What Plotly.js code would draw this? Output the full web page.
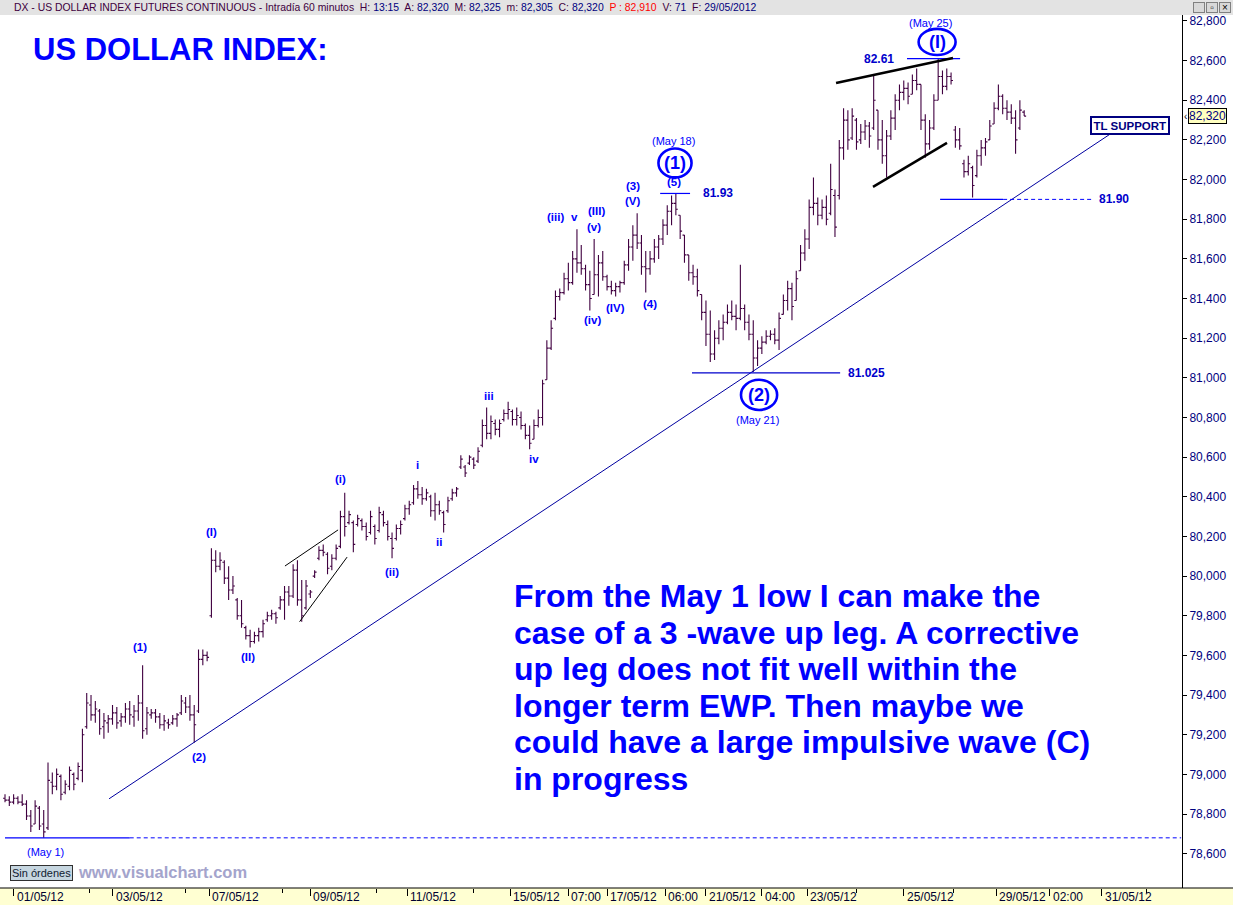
<!DOCTYPE html>
<html><head><meta charset="utf-8">
<script src="https://cdn.plot.ly/plotly-3.0.1.min.js"></script>
<style>html,body{margin:0;padding:0;background:#fff;overflow:hidden}#chart{width:1233px;height:905px}</style>
</head><body><div id="chart"></div>
<script>
// ---- Data: 2-hour OHLC bars of DX ----
const openPrice = [
78.88,78.87,78.86,78.88,78.86,78.85,78.79,78.75,78.83,78.75,
78.73,78.96,78.94,78.99,78.91,78.94,79.00,78.98,79.02,79.24,
79.35,79.30,79.32,79.24,79.26,79.28,79.31,79.27,79.29,79.33,
79.29,79.32,79.36,79.23,79.30,79.31,79.29,79.25,79.26,79.26,
79.28,79.31,79.36,79.34,79.30,79.32,79.58,79.60,79.80,80.08,
80.05,80.07,79.99,79.93,79.88,79.80,79.74,79.70,79.67,79.70,
79.72,79.78,79.80,79.81,79.84,79.88,79.92,79.90,80.03,79.88,
79.84,79.91,80.00,80.09,80.13,80.11,80.05,80.09,80.15,80.30,
80.27,80.27,80.26,80.28,80.25,80.22,80.25,80.23,80.31,80.26,
80.19,80.19,80.24,80.29,80.34,80.37,80.44,80.41,80.39,80.40,
80.33,80.36,80.32,80.33,80.39,80.42,80.55,80.55,80.57,80.59,
80.58,80.66,80.76,80.72,80.77,80.74,80.79,80.82,80.83,80.79,
80.80,80.76,80.71,80.69,80.76,80.80,80.99,81.15,81.30,81.41,
81.43,81.50,81.48,81.60,81.58,81.55,81.47,81.42,81.52,81.58,
81.51,81.46,81.44,81.46,81.48,81.57,81.66,81.72,81.68,81.56,
81.55,81.60,81.66,81.70,81.77,81.84,81.88,81.82,81.72,81.62,
81.53,81.51,81.42,81.33,81.22,81.12,81.20,81.25,81.28,81.33,
81.31,81.30,81.35,81.28,81.22,81.10,81.15,81.18,81.21,81.22,
81.19,81.32,81.39,81.45,81.39,81.54,81.63,81.70,81.86,81.88,
81.82,81.86,81.83,81.92,81.92,82.16,82.30,82.21,82.30,82.20,
82.24,82.27,82.26,82.35,82.20,82.12,82.22,82.31,82.40,82.44,
82.46,82.43,82.50,82.48,82.30,82.18,82.26,82.40,82.52,82.47,
82.52,82.25,82.20,82.08,82.04,82.06,82.02,82.12,82.16,82.20,
82.28,82.36,82.42,82.36,82.34,82.31,82.26,82.34];
const highPrice = [
78.90,78.89,78.90,78.89,78.90,78.87,78.82,78.87,78.84,78.82,
79.06,79.01,79.03,79.00,78.97,79.04,79.01,79.06,79.23,79.41,
79.40,79.37,79.33,79.31,79.30,79.35,79.34,79.31,79.36,79.37,
79.35,79.40,79.55,79.34,79.33,79.33,79.31,79.30,79.28,79.30,
79.31,79.40,79.39,79.40,79.35,79.63,79.63,79.62,80.14,80.13,
80.12,80.08,80.05,80.00,79.89,79.88,79.75,79.73,79.72,79.74,
79.78,79.82,79.83,79.82,79.90,79.95,79.95,80.06,80.08,79.98,
79.98,79.93,80.03,80.15,80.16,80.12,80.11,80.16,80.33,80.42,
80.33,80.28,80.31,80.29,80.27,80.33,80.26,80.35,80.33,80.28,
80.22,80.26,80.28,80.36,80.38,80.46,80.48,80.45,80.44,80.41,
80.42,80.38,80.33,80.40,80.44,80.45,80.61,80.56,80.61,80.60,
80.65,80.79,80.85,80.81,80.79,80.79,80.84,80.88,80.84,80.85,
80.83,80.77,80.76,80.79,80.84,80.99,81.19,81.29,81.44,81.45,
81.53,81.58,81.64,81.75,81.67,81.57,81.54,81.70,81.62,81.64,
81.52,81.49,81.48,81.49,81.59,81.70,81.77,81.83,81.72,81.64,
81.64,81.70,81.72,81.80,81.87,81.92,81.93,81.82,81.72,81.62,
81.57,81.55,81.42,81.39,81.34,81.24,81.29,81.32,81.37,81.39,
81.37,81.57,81.37,81.32,81.29,81.19,81.21,81.24,81.24,81.25,
81.33,81.42,81.49,81.48,81.54,81.67,81.75,81.90,82.01,81.91,
81.90,81.92,82.08,81.95,82.20,82.36,82.35,82.36,82.31,82.28,
82.30,82.29,82.53,82.35,82.30,82.25,82.35,82.43,82.48,82.50,
82.49,82.53,82.56,82.48,82.33,82.30,82.43,82.61,82.55,82.56,
82.54,82.27,82.26,82.10,82.12,82.07,82.15,82.20,82.21,82.30,
82.39,82.48,82.43,82.40,82.38,82.35,82.40,82.35];
const lowPrice = [
78.86,78.84,78.85,78.85,78.84,78.77,78.71,78.75,78.72,78.68,
78.72,78.90,78.92,78.87,78.90,78.92,78.92,78.97,78.96,79.23,
79.27,79.26,79.20,79.18,79.21,79.25,79.23,79.24,79.26,79.25,
79.24,79.27,79.18,79.20,79.28,79.26,79.23,79.22,79.23,79.25,
79.24,79.30,79.31,79.27,79.16,79.31,79.55,79.57,79.79,80.02,
80.03,79.96,79.88,79.91,79.78,79.74,79.68,79.64,79.66,79.67,
79.69,79.77,79.78,79.76,79.83,79.78,79.85,79.89,79.85,79.77,
79.83,79.89,79.99,80.08,80.10,80.01,80.03,80.08,80.14,80.20,
80.26,80.12,80.25,80.23,80.18,80.21,80.16,80.22,80.25,80.18,
80.09,80.18,80.21,80.28,80.31,80.36,80.39,80.36,80.38,80.30,
80.28,80.31,80.22,80.32,80.38,80.40,80.54,80.50,80.56,80.54,
80.57,80.65,80.69,80.69,80.71,80.70,80.78,80.79,80.76,80.76,
80.74,80.69,80.64,80.69,80.75,80.76,80.99,81.14,81.29,81.39,
81.42,81.44,81.47,81.53,81.52,81.44,81.34,81.42,81.41,81.49,
81.44,81.42,81.41,81.43,81.47,81.54,81.59,81.65,81.52,81.43,
81.52,81.58,81.60,81.67,81.72,81.77,81.82,81.70,81.58,81.49,
81.47,81.41,81.29,81.16,81.08,81.09,81.17,81.19,81.27,81.29,
81.24,81.29,81.24,81.19,81.03,81.06,81.12,81.17,81.19,81.17,
81.14,81.32,81.34,81.29,81.39,81.54,81.59,81.65,81.82,81.77,
81.80,81.77,81.82,81.71,81.90,82.10,82.15,82.20,82.15,82.18,
82.20,82.16,82.25,82.15,82.08,82.01,82.20,82.25,82.35,82.40,
82.38,82.43,82.45,82.25,82.11,82.15,82.25,82.40,82.43,82.45,
82.48,82.16,82.15,82.01,82.02,81.91,82.01,82.07,82.12,82.20,
82.28,82.35,82.33,82.30,82.28,82.13,82.25,82.32];
const closePrice = [
78.87,78.86,78.88,78.86,78.85,78.79,78.74,78.84,78.74,78.71,
78.97,78.94,79.00,78.90,78.95,79.02,78.95,79.04,79.20,79.36,
79.30,79.33,79.23,79.27,79.28,79.31,79.26,79.29,79.33,79.30,
79.32,79.36,79.22,79.31,79.31,79.29,79.25,79.27,79.25,79.28,
79.30,79.37,79.34,79.30,79.25,79.58,79.60,79.59,80.08,80.05,
80.08,79.99,79.93,79.95,79.80,79.76,79.70,79.67,79.70,79.72,
79.76,79.80,79.81,79.79,79.88,79.92,79.90,80.03,79.88,79.80,
79.95,79.92,80.02,80.13,80.12,80.04,80.09,80.14,80.30,80.25,
80.31,80.16,80.29,80.25,80.20,80.30,80.19,80.32,80.27,80.20,
80.14,80.24,80.26,80.34,80.36,80.44,80.41,80.39,80.42,80.33,
80.36,80.33,80.26,80.38,80.42,80.44,80.59,80.52,80.60,80.56,
80.63,80.76,80.72,80.78,80.74,80.77,80.82,80.84,80.79,80.81,
80.76,80.71,80.67,80.76,80.80,80.97,81.15,81.25,81.41,81.43,
81.50,81.48,81.60,81.58,81.55,81.47,81.40,81.52,81.58,81.51,
81.46,81.44,81.46,81.48,81.57,81.66,81.72,81.68,81.56,81.55,
81.60,81.66,81.70,81.77,81.84,81.88,81.85,81.74,81.62,81.53,
81.51,81.44,81.33,81.22,81.12,81.20,81.25,81.28,81.33,81.31,
81.30,81.35,81.28,81.22,81.10,81.15,81.18,81.21,81.22,81.19,
81.30,81.39,81.45,81.36,81.50,81.63,81.70,81.86,81.88,81.82,
81.86,81.80,81.95,81.76,82.16,82.30,82.20,82.32,82.19,82.24,
82.27,82.22,82.40,82.20,82.12,82.22,82.31,82.40,82.44,82.46,
82.42,82.50,82.48,82.30,82.18,82.26,82.40,82.52,82.47,82.52,
82.50,82.20,82.17,82.04,82.08,81.97,82.12,82.16,82.19,82.27,
82.36,82.42,82.36,82.34,82.31,82.20,82.35,82.32];

const priceTicks = [78.6,78.8,79.0,79.2,79.4,79.6,79.8,80.0,80.2,80.4,80.6,80.8,81.0,81.2,81.4,81.6,81.8,82.0,82.2,82.4,82.6,82.8];
const dateTickHours = [4,50,95,142,187,235,262,280,307,326,352,373,418,461,486,510];
const dateTickLabels = ['01/05/12','03/05/12','07/05/12','09/05/12','11/05/12','15/05/12','07:00','17/05/12','06:00','21/05/12','04:00','23/05/12','25/05/12','29/05/12','02:00','31/05/12'];
const minorTickHours = [39.5,84,129,173,218,396,441,531];

const waveText  = ['(1)','(2)','(I)','(II)','(i)','(ii)','i','ii','iii','iv','(iii)','v','(III)','(v)','(iv)','(IV)','(3)','(V)','(4)','(5)'];
const waveHour  = [63,90,96,113,156,180,192,202,225,246,256,265,275,274,273,284,292,292,300,311];
const wavePrice = [79.64,79.09,80.22,79.59,80.49,80.02,80.56,80.17,80.91,80.59,81.81,81.81,81.84,81.76,81.29,81.35,81.97,81.89,81.37,81.99];

const dateNoteText  = ['(May 1)','(May 18)','(May 21)','(May 25)'];
const dateNoteHour  = [19,310.7,349.8,430.2];
const dateNotePrice = [78.608,82.195,80.787,82.79];

const circleText  = ['(1)','(2)','(I)'];
const circleHour  = [311.6,350.7,433.5];
const circlePrice = [82.084,80.914,82.694];

const levelText  = ['81.93','81.025','82.61','81.90'];
const levelValue = [81.93,81.025,82.61,81.90];
const levelLabelHour = [331.6,400.5,406.5,515.8];

const mayOneLow = 78.68;
const trendAnchorHour  = [48.4,516.3];
const trendAnchorPrice = [78.877,82.246];

const paragraphLines = [
 'From the May 1 low I can make the',
 'case of a 3 -wave up leg. A corrective',
 'up leg does not fit well within the',
 'longer term EWP. Then maybe we',
 'could have a large impulsive wave (C)',
 'in progress'];

// ---- Layout helpers (pixel -> paper for decorative layout only) ----
const W = 1233, H = 905, ML = 0, MR = 51, MT = 15, MB = 17;
const PW = W - ML - MR, PH = H - MT - MB;
const px = x => (x - ML) / PW;
const py = y => (H - MB - y) / PH;

const FONT = '"Liberation Sans", Arial, sans-serif';
const BLUE = '#0000ff';
const barHour = openPrice.map((_, i) => 2 * i);

const trace = {
  type: 'ohlc', x: barHour, open: openPrice, high: highPrice, low: lowPrice, close: closePrice,
  increasing: {line: {color: '#400040', width: 1.1}},
  decreasing: {line: {color: '#400040', width: 1.1}},
  tickwidth: 0.45, hoverinfo: 'skip', showlegend: false
};

const shapes = [];
// header band & footer band
shapes.push({type:'rect', xref:'paper', yref:'paper', x0:-0.01, x1:1.06, y0:1, y1:py(-5), fillcolor:'#e3e3e3', line:{width:0}, layer:'below'});
shapes.push({type:'rect', xref:'paper', yref:'paper', x0:-0.01, x1:1.06, y0:py(H+5), y1:0, fillcolor:'#ffffd2', line:{width:0}, layer:'below'});
shapes.push({type:'line', xref:'paper', yref:'paper', x0:-0.01, x1:1.06, y0:0, y1:0, line:{color:'#000', width:1}});
// trend line
shapes.push({type:'line', xref:'x', yref:'y', x0:trendAnchorHour[0], y0:trendAnchorPrice[0], x1:trendAnchorHour[1], y1:trendAnchorPrice[1], line:{color:'#0000a0', width:1}});
// May 1 low
shapes.push({type:'line', xref:'x', yref:'y', x0:0, x1:58, y0:mayOneLow, y1:mayOneLow, line:{color:BLUE, width:1.2}});
shapes.push({type:'line', xref:'x', yref:'y', x0:58, x1:547, y0:mayOneLow, y1:mayOneLow, line:{color:BLUE, width:1, dash:'4px,3px'}});
// level lines
shapes.push({type:'line', xref:'x', yref:'y', x0:304.7, x1:318.6, y0:levelValue[0], y1:levelValue[0], line:{color:BLUE, width:1.2}});
shapes.push({type:'line', xref:'x', yref:'y', x0:319.5, x1:388.4, y0:levelValue[1], y1:levelValue[1], line:{color:'#0000cc', width:1.2}});
shapes.push({type:'line', xref:'x', yref:'y', x0:419.5, x1:444.2, y0:levelValue[2], y1:levelValue[2], line:{color:BLUE, width:1.2}});
shapes.push({type:'line', xref:'x', yref:'y', x0:434.9, x1:464.2, y0:levelValue[3], y1:levelValue[3], line:{color:BLUE, width:1.2}});
shapes.push({type:'line', xref:'x', yref:'y', x0:464.2, x1:505.6, y0:levelValue[3], y1:levelValue[3], line:{color:BLUE, width:1, dash:'4px,3px'}});
// small black wedge (May 8-9)
shapes.push({type:'line', xref:'x', yref:'y', x0:130.2, y0:80.051, x1:154.9, y1:80.233, line:{color:'#000', width:1}});
shapes.push({type:'line', xref:'x', yref:'y', x0:137.0, y0:79.770, x1:159.1, y1:80.096, line:{color:'#000', width:1}});
// thick black triangle (May 23-25)
shapes.push({type:'line', xref:'x', yref:'y', x0:386.5, y0:82.487, x1:440.9, y1:82.613, line:{color:'#000', width:2.5}});
shapes.push({type:'line', xref:'x', yref:'y', x0:403.7, y0:81.963, x1:438.1, y1:82.185, line:{color:'#000', width:2.5}});
// circles around key waves
const circleHalfW = [7.7, 8.4, 8.6];
const circleHalfH = [0.073, 0.076, 0.066];
circleText.forEach((t, i) => {
  shapes.push({type:'circle', xref:'x', yref:'y', x0:circleHour[i]-circleHalfW[i], x1:circleHour[i]+circleHalfW[i],
    y0:circlePrice[i]-circleHalfH[i], y1:circlePrice[i]+circleHalfH[i], line:{color:BLUE, width:2.6}});
});

const annotations = [];
const A = (o) => annotations.push(Object.assign({showarrow:false, xanchor:'center', yanchor:'middle', font:{family:FONT, size:11, color:BLUE}}, o));

// header line
const P = '#400040', N = '#000080', G = '\u00a0';
const hdr = `<span style="color:${P}">DX - US DOLLAR INDEX FUTURES CONTINUOUS - Intradía 60 minutos${G} H: </span><span style="color:${N}">13:15</span>` +
  `<span style="color:${P}">${G} A: </span><span style="color:${N}">82,320</span>` +
  `<span style="color:${P}">${G} M: </span><span style="color:${N}">82,325</span>` +
  `<span style="color:${P}">${G} m: </span><span style="color:${N}">82,305</span>` +
  `<span style="color:${P}">${G} C: </span><span style="color:${N}">82,320</span>` +
  `<span style="color:#ff0000">${G} P : 82,910</span>` +
  `<span style="color:${P}">${G} V: </span><span style="color:${N}">71</span>` +
  `<span style="color:${P}">${G} F: </span><span style="color:${N}">29/05/2012</span>`;
A({xref:'paper', yref:'paper', x:px(12), y:py(7.5), xanchor:'left', text:hdr, font:{family:FONT, size:10.4, color:P}});
// window buttons
['_','\u25ab','\u00d7'].forEach((t, i) => A({xref:'paper', yref:'paper', x:px(1199 + i*13), y:py(7.5),
  text:t, font:{family:FONT, size:10, color:'#000'}, bgcolor:'#d8d8d8', bordercolor:'#808080', borderwidth:1, borderpad:0, width:10, height:9}));

// title
A({xref:'paper', yref:'paper', x:px(31), y:py(50), xanchor:'left', text:'<b>US DOLLAR INDEX:</b>', font:{family:FONT, size:31, color:BLUE}});
// paragraph
paragraphLines.forEach((t, i) => A({xref:'paper', yref:'paper', x:px(512), y:py(596 + i*36.6), xanchor:'left',
  text:'<b>' + t + '</b>', font:{family:FONT, size:32, color:BLUE}}));

// wave counts
waveText.forEach((t, i) => A({x:waveHour[i], y:wavePrice[i], text:'<b>' + t + '</b>', font:{family:FONT, size:11.5, color:BLUE}}));
dateNoteText.forEach((t, i) => A({x:dateNoteHour[i], y:dateNotePrice[i], text:t, font:{family:FONT, size:11, color:BLUE}}));
circleText.forEach((t, i) => A({x:circleHour[i], y:circlePrice[i], text:'<b>' + t + '</b>', font:{family:FONT, size:18, color:BLUE}}));
levelText.forEach((t, i) => A({x:levelLabelHour[i], y:levelValue[i], text:'<b>' + t + '</b>', font:{family:FONT, size:12, color:'#0000cc'}}));
// TL SUPPORT
A({x:523, y:82.273, text:'<b>TL SUPPORT</b>', font:{family:FONT, size:11.5, color:'#000080'}, bgcolor:'#fff', bordercolor:'#000080', borderwidth:2, borderpad:1.5});

// last price tag
A({xref:'paper', yref:'y', x:px(1188), y:closePrice[closePrice.length-1], xanchor:'left', text:'82,320', font:{family:FONT, size:12, color:'#000080'},
  bgcolor:'#ffffc0', bordercolor:'#000', borderwidth:1, borderpad:0});
A({xref:'paper', yref:'y', x:px(1185), y:closePrice[closePrice.length-1], text:'\u2039', font:{family:FONT, size:10, color:'#000'}});

// footer
A({xref:'paper', yref:'paper', x:px(41), y:py(873), text:'Sin órdenes', font:{family:FONT, size:11, color:'#102030'},
  bgcolor:'#c6d6e0', bordercolor:'#303030', borderwidth:1, borderpad:1});
A({xref:'paper', yref:'paper', x:px(76), y:py(872), xanchor:'left', text:'<b>www.visualchart.com</b>', font:{family:FONT, size:16.5, color:'#a4a4cc'}});

// bottom date labels (left-aligned after tick)
dateTickHours.forEach((h, i) => A({xref:'x', yref:'paper', x:h, y:py(897), xanchor:'left', xshift:1,
  text:dateTickLabels[i], font:{family:FONT, size:12, color:'#000030'}}));

const layout = {
  width: W, height: H, margin: {l:ML, r:MR, t:MT, b:MB, pad:0},
  paper_bgcolor: '#fff', plot_bgcolor: '#fff', showlegend: false,
  separators: ',.',
  xaxis: {range: [-2.33, 547.4], rangeslider: {visible:false}, showgrid:false, zeroline:false, showline:false,
    tickmode:'array', tickvals: dateTickHours, showticklabels:false, ticks:'outside', ticklen:7, tickcolor:'#000', tickwidth:1,
    minor: {tickmode:'array', tickvals: minorTickHours, ticks:'outside', ticklen:4, tickcolor:'#000', showgrid:false}, fixedrange:true},
  yaxis: {side:'right', range:[78.427, 82.830], showgrid:false, zeroline:false, showline:true, linecolor:'#000', linewidth:1,
    tickmode:'array', tickvals: priceTicks, tickformat:'.3f', ticks:'outside', ticklen:4, tickcolor:'#000',
    tickfont:{family:FONT, size:12, color:'#000080'}, fixedrange:true},
  shapes: shapes, annotations: annotations
};
Plotly.newPlot('chart', [trace], layout, {staticPlot:true, displayModeBar:false});
</script></body></html>
